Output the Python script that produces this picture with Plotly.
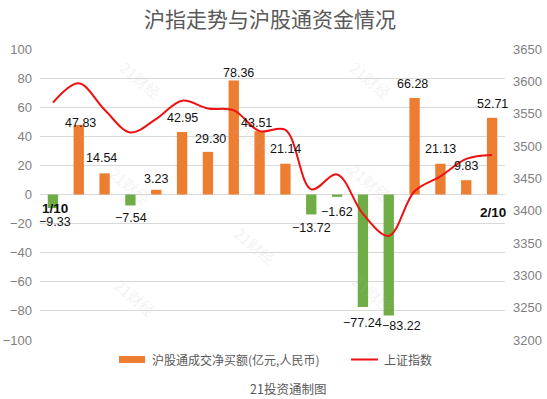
import plotly.graph_objects as go

# ---- data ----
dates = ["1/10", "1/11", "1/12", "1/13", "1/14", "1/17", "1/18", "1/19", "1/20",
         "1/21", "1/24", "1/25", "1/26", "1/27", "1/28", "2/8", "2/9", "2/10"]
net_buy = [-9.33, 47.83, 14.54, -7.54, 3.23, 42.95, 29.30, 78.36, 43.51,
           21.14, -13.72, -1.62, -77.24, -83.22, 66.28, 21.13, 9.83, 52.71]
sse_index = [3567, 3597, 3556, 3521, 3542, 3570, 3558, 3555, 3523,
             3525, 3433, 3456, 3395, 3361, 3430, 3453, 3480, 3486]
left_ticks = list(range(-100, 101, 20))
right_ticks = list(range(3200, 3651, 50))

title_text = "沪指走势与沪股通资金情况"
bar_name = "沪股通成交净买额(亿元,人民币)"
line_name = "上证指数"
source_text = "21投资通制图"
watermark = "21财经"

# ---- style / layout ----
W, H = 547, 399
L, R, T, B = 40, 42, 49, 59
PW, PH = W - L - R, H - T - B
ORANGE = "#ED7D31"
GREEN = "#70AD47"
RED = "#EE1111"
GRAY = "#595959"
TICKGRAY = "#7F7F7F"
FONT = "Liberation Sans, Arial, Noto Sans CJK SC, sans-serif"
CJK = "Noto Sans CJK SC, sans-serif"

# per-label pixel offsets (style only)
label_dx = [2, 2, -3, 1, 0, 0, 3, 5, -3, 0, 0, 0, 0, 13, -2, 0, 0, 0]
label_dy = [-14, 2, 15, -13, 11, 14, 13, 7, 8, 15, -14, -15, -16, -10, 14, 15, 14, 14]


def px(xp, yp):
    """pixel position -> paper coordinates"""
    return (xp - L) / PW, (H - B - yp) / PH


fig = go.Figure()
fig.add_trace(go.Bar(
    x=dates, y=net_buy, name=bar_name, yaxis="y",
    marker=dict(color=[ORANGE if v >= 0 else GREEN for v in net_buy], line=dict(width=0)),
    width=0.4, showlegend=False, hoverinfo="x+y",
))
fig.add_trace(go.Scatter(
    x=dates, y=sse_index, name=line_name, yaxis="y2", mode="lines",
    line=dict(color=RED, width=2, shape="spline", smoothing=1.0),
    showlegend=False,
))

ann = []
for d, v, dx, dy in zip(dates, net_buy, label_dx, label_dy):
    txt = ("−%.2f" % abs(v)) if v < 0 else "%.2f" % v
    ann.append(dict(x=d, y=v, xref="x", yref="y", text=txt, showarrow=False,
                    xanchor="center", yanchor="middle",
                    xshift=dx, yshift=dy, font=dict(family=FONT, size=12.5, color="#111111")))

# endpoint date labels
ann.append(dict(x=dates[0], y=0, xref="x", yref="y", text="<b>%s</b>" % dates[0],
                showarrow=False, xshift=2, yshift=-14, xanchor="center", yanchor="middle",
                font=dict(family=FONT, size=13.5, color="#111111")))
ann.append(dict(x=dates[-1], y=0, xref="x", yref="y", text="<b>%s</b>" % dates[-1],
                showarrow=False, xshift=1, yshift=-18, xanchor="center", yanchor="middle",
                font=dict(family=FONT, size=13.5, color="#111111")))

# watermarks
for (wx, wy) in [(140, 80), (370, 80), (255, 140), (130, 185), (370, 182),
                 (255, 245), (135, 297), (373, 293)]:
    xp, yp = px(wx, wy)
    ann.append(dict(x=xp, y=yp, xref="paper", yref="paper", text=watermark,
                    showarrow=False, textangle=40, xanchor="center", yanchor="middle",
                    font=dict(family=CJK, size=15, color="rgba(180,180,180,0.18)")))

# title
xp, yp = px(270, 18)
ann.append(dict(x=xp, y=yp, xref="paper", yref="paper", text=title_text, showarrow=False,
                xanchor="center", yanchor="middle",
                font=dict(family=CJK, size=21, color=GRAY)))

# custom legend
shapes = []
x0, y0 = px(119, 356)
x1, y1 = px(145, 363)
shapes.append(dict(type="rect", xref="paper", yref="paper", x0=x0, x1=x1, y0=y1, y1=y0,
                   fillcolor=ORANGE, line=dict(width=0)))
xp, yp = px(150, 359)
ann.append(dict(x=xp, y=yp, xref="paper", yref="paper", text=bar_name, showarrow=False,
                xanchor="left", yanchor="middle", font=dict(family=CJK, size=12, color=GRAY)))
x0, ly = px(351, 359.5)
x1, _ = px(378, 359.5)
shapes.append(dict(type="line", xref="paper", yref="paper", x0=x0, x1=x1, y0=ly, y1=ly,
                   line=dict(color=RED, width=2)))
xp, yp = px(382, 359)
ann.append(dict(x=xp, y=yp, xref="paper", yref="paper", text=line_name, showarrow=False,
                xanchor="left", yanchor="middle", font=dict(family=CJK, size=12, color=GRAY)))

# source
xp, yp = px(288, 388)
ann.append(dict(x=xp, y=yp, xref="paper", yref="paper", text=source_text, showarrow=False,
                xanchor="center", yanchor="middle",
                font=dict(family=CJK, size=12.5, color=GRAY)))

fig.update_layout(
    width=W, height=H,
    margin=dict(l=L, r=R, t=T, b=B, pad=0, autoexpand=False),
    paper_bgcolor="white", plot_bgcolor="white",
    bargap=0.6,
    xaxis=dict(type="category", showticklabels=False, showgrid=False, zeroline=False,
               showline=False, ticks="", range=[-0.5, len(dates) - 0.5], automargin=False),
    yaxis=dict(range=[-100, 100], tickvals=left_ticks, showgrid=True, gridcolor="#D9D9D9",
               gridwidth=1, zeroline=True, zerolinecolor="#D9D9D9", zerolinewidth=1,
               showline=False, ticks="", ticklabelstandoff=7, automargin=False,
               tickfont=dict(family=FONT, size=13, color=TICKGRAY)),
    yaxis2=dict(range=[3200, 3650], tickvals=right_ticks, overlaying="y", side="right",
                showgrid=False, zeroline=False, showline=False, ticks="",
                ticklabelstandoff=7, automargin=False,
                tickfont=dict(family=FONT, size=13, color=TICKGRAY)),
    annotations=ann, shapes=shapes,
    showlegend=False,
)

fig.write_html("out.html", config={"displayModeBar": False},
               post_script="document.body.style.margin='0px';")
